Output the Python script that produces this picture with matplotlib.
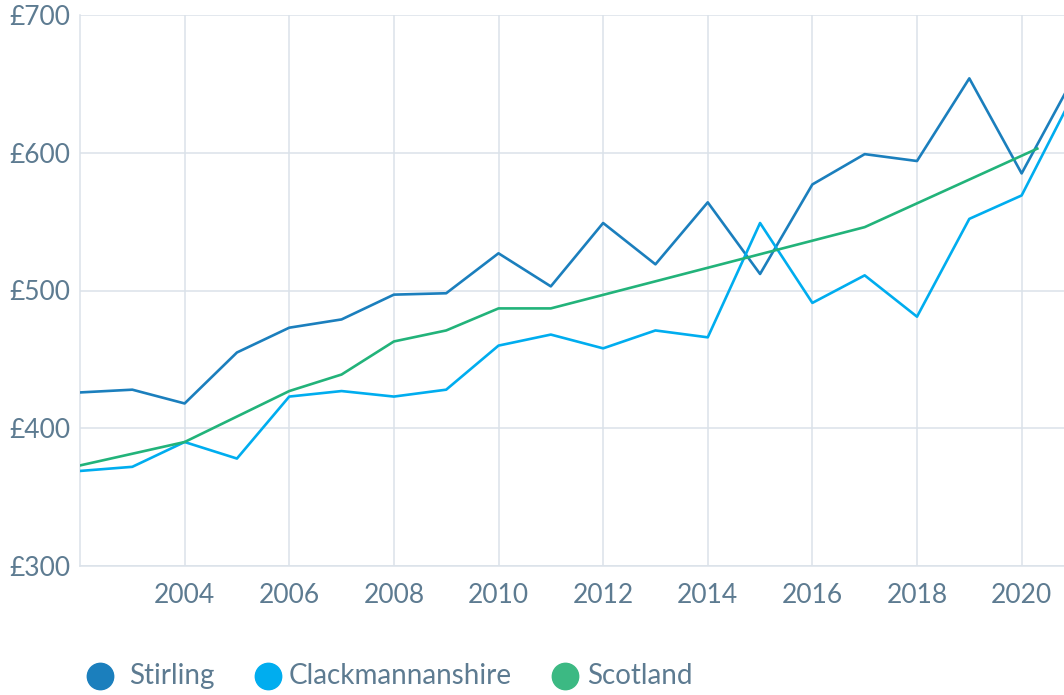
import matplotlib
matplotlib.use("Agg")
import matplotlib.pyplot as plt
from matplotlib.lines import Line2D

years = list(range(2002, 2022))
stirling = [426, 428, 418, 455, 473, 479, 497, 498, 527, 503,
            549, 519, 564, 512, 577, 599, 594, 654, 585, 655]
clack = [369, 372, 390, 378, 423, 427, 423, 428, 460, 468,
         458, 471, 466, 549, 491, 511, 481, 552, 569, 643]
scot_years = [2002, 2004, 2006, 2007, 2008, 2009, 2010, 2011, 2017, 2020.3]
scotland = [373, 390, 427, 439, 463, 471, 487, 487, 546, 603]

x_ticks = [2004, 2006, 2008, 2010, 2012, 2014, 2016, 2018, 2020]
y_ticks = [300, 400, 500, 600, 700]

c_stirling = "#1b7fbd"
c_clack = "#00adef"
c_scot = "#22b37a"
c_grid = "#dbe2ea"
c_text = "#5d7b91"

plt.rcParams["font.family"] = ["Lato", "DejaVu Sans"]

W, H = 1064, 695
fig = plt.figure(figsize=(W / 100, H / 100), dpi=100)
ax = fig.add_axes([80 / W, 1 - 566 / H, 1 - 80 / W, 551 / H])

ax.plot(years, stirling, color=c_stirling, lw=1.9, zorder=3)
ax.plot(years, clack, color=c_clack, lw=1.9, zorder=3)
ax.plot(scot_years, scotland, color=c_scot, lw=1.9, zorder=3)

ax.set_xlim(2002, 2020.81)
ax.set_ylim(300, 700)
ax.set_xticks(x_ticks)
ax.set_yticks(y_ticks)
ax.set_yticklabels(["£%d" % v for v in y_ticks])
ax.grid(True, color=c_grid, lw=1.1, zorder=0)
ax.tick_params(length=0, labelsize=19, colors=c_text)
ax.tick_params(axis="x", pad=12)
ax.tick_params(axis="y", pad=7)
for side in ["top", "right"]:
    ax.spines[side].set_visible(False)
for side in ["left", "bottom"]:
    ax.spines[side].set_color(c_grid)
    ax.spines[side].set_linewidth(1.1)

# legend drawn by hand so the spacing matches
legend_items = [("Stirling", c_stirling, 100, 129),
                ("Clackmannanshire", c_clack, 268, 289),
                ("Scotland", "#3cb983", 565, 587)]
ly = 1 - 676 / H
for name, col, cx, tx in legend_items:
    fig.add_artist(Line2D([cx / W], [ly], ls="", marker="o", markersize=19,
                          color=col, transform=fig.transFigure))
    fig.text(tx / W, ly, name, fontsize=20, color=c_text, va="center", ha="left")

fig.savefig("out.png", dpi=100)
